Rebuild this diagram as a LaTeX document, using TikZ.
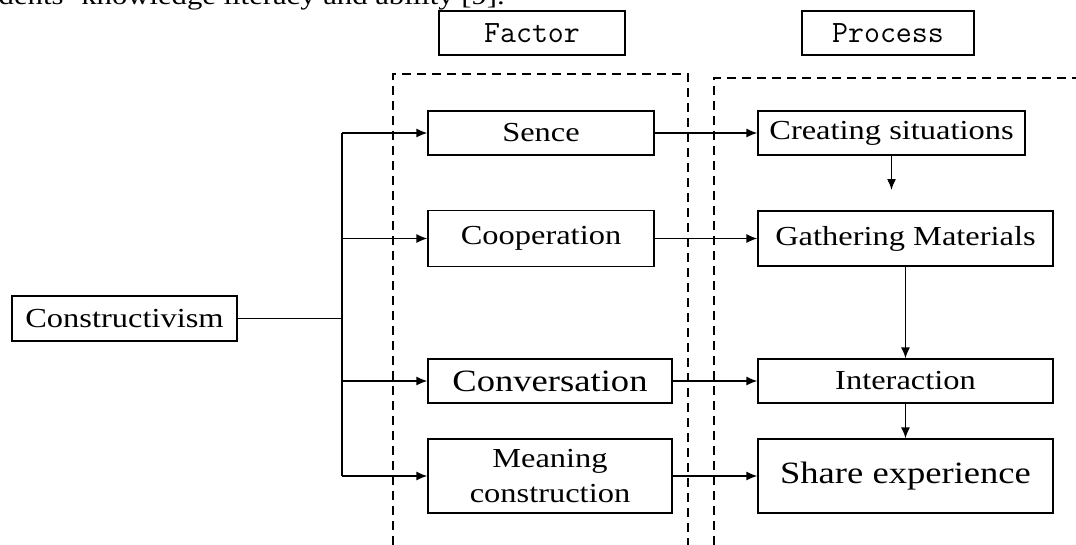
\documentclass[tikz,border=0pt]{standalone}
\usepackage{fontspec}
\setmainfont{Liberation Serif}[FakeStretch=1.18]
\usetikzlibrary{arrows.meta}
\tikzset{
  box/.style={draw, line width=1.3pt, inner sep=0pt, align=center, font=\fontsize{27.5}{35}\selectfont},
  bigbox/.style={box, font=\fontsize{31}{37}\selectfont},
  headbox/.style={draw, line width=1.3pt, inner sep=0pt, font=\ttfamily\fontsize{31}{36}\selectfont},
  conn/.style={line width=1.4pt},
  arr/.style={conn, -{Latex[length=11pt,width=9pt]}},
  dashbox/.style={line width=1.3pt, dash pattern=on 9pt off 6pt},
}
\begin{document}
\begin{tikzpicture}[x=1pt,y=-1pt]
\useasboundingbox (0,0) rectangle (1076,544);
\clip (0,0) rectangle (1076,544);
% cut-off text line at the top
\node[anchor=base east, inner sep=0pt, font=\fontsize{26}{30}\selectfont] (topline) at (505,4) {students' knowledge literacy and ability [9].};
% headings
\node[headbox, minimum width=186pt, minimum height=44pt] (factor) at (532,33) {Factor};
\node[headbox, minimum width=172pt, minimum height=44pt] (process) at (888,33) {Process};
% dashed frames
\draw[dashbox] (393,560) -- (393,74) -- (688,74) -- (688,560);
\draw[dashbox] (714,560) -- (714,78) -- (1090,78);
% nodes
\node[box, minimum width=225pt, minimum height=45pt] (cons) at (124.5,318.5) {Constructivism};
\node[box, minimum width=226pt, minimum height=44pt] (sence) at (541,133) {Sence};
\node[box, minimum width=226pt, minimum height=56pt] (coop) at (541,238.5) {Cooperation};
\node[bigbox, minimum width=244pt, minimum height=44pt] (conv) at (550,381) {Conversation};
\node[box, minimum width=244pt, minimum height=74pt] (mean) at (550,476) {Meaning\\construction};
\node[box, minimum width=267pt, minimum height=44pt] (creat) at (891.5,133) {Creating situations};
\node[box, minimum width=295pt, minimum height=55pt] (gath) at (905.5,238.5) {Gathering Materials};
\node[box, minimum width=295pt, minimum height=44pt] (inter) at (905.5,381) {Interaction};
\node[bigbox, minimum width=295pt, minimum height=74pt] (share) at (905.5,476) {Share experience};
% trunk
\coordinate (tj) at (342,318.5);
\coordinate (t1) at (342,133);
\coordinate (t2) at (342,238.5);
\coordinate (t3) at (342,381);
\coordinate (t4) at (342,476);
\coordinate (cend) at (891.5,190);
\draw[conn] (cons.east) -- (tj);
\draw[conn] (t1) -- (t4);
\draw[arr] (t1) -- (sence.west);
\draw[arr] (t2) -- (coop.west);
\draw[arr] (t3) -- (conv.west);
\draw[arr] (t4) -- (mean.west);
% factor -> process
\draw[arr] (sence.east) -- (creat.west);
\draw[arr] (coop.east) -- (gath.west);
\draw[arr] (conv.east) -- (inter.west);
\draw[arr] (mean.east) -- (share.west);
% process chain
\draw[arr] (creat.south) -- (cend);
\draw[arr] (gath.south) -- (inter.north);
\draw[arr] (inter.south) -- (share.north);
\end{tikzpicture}
\end{document}
